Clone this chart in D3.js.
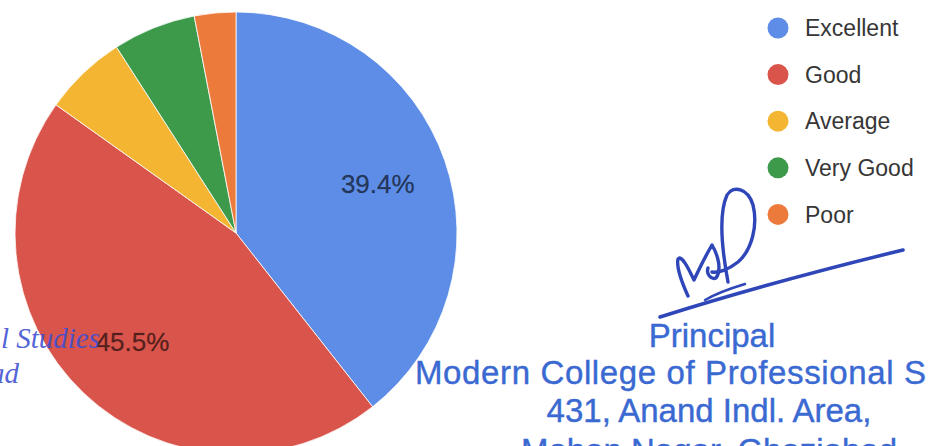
<!DOCTYPE html>
<html>
<head>
<meta charset="utf-8">
<script src="https://cdn.jsdelivr.net/npm/d3@7/dist/d3.min.js"></script>
<style>
  html, body { margin: 0; padding: 0; background: #fff; }
  svg { display: block; }
</style>
</head>
<body>
<svg id="chart" width="928" height="446"></svg>
<script>
// ---- data ----
const categories = ["Excellent", "Good", "Average", "Very Good", "Poor"];
const counts = [13, 15, 2, 2, 1];
const colors = ["#5d8de6", "#d9544b", "#f4b632", "#3e9a4b", "#ec7a3b"];
const stampLines = ["Principal", "Modern College of Professional S", "431, Anand Indl. Area,", "Mohan Nagar, Ghaziabad"];
const sideStampLines = ["l Studies", "ad"];

const W = 928, H = 446;
const cx = 236, cy = 233, R = 221, labelR = 150;

const svg = d3.select("#chart");
const total = d3.sum(counts);
const fmt = d3.format(".1%");

const color = d3.scaleOrdinal().domain(categories).range(colors);
const pie = d3.pie().sort(null).value(d => d.value);
const data = categories.map((c, i) => ({ name: c, value: counts[i] }));
const arcs = pie(data);
const arc = d3.arc().innerRadius(0).outerRadius(R);
const labelArc = d3.arc().innerRadius(labelR).outerRadius(labelR);

const g = svg.append("g").attr("transform", `translate(${cx},${cy})`);
g.selectAll("path.slice")
  .data(arcs)
  .join("path")
  .attr("class", "slice")
  .attr("d", arc)
  .attr("fill", d => color(d.data.name))
  .attr("stroke", "#ffffff")
  .attr("stroke-width", 0.8);

// side stamp text (partially visible, italic serif)
const side = svg.append("g")
  .attr("font-family", "'Liberation Serif', 'DejaVu Serif', serif")
  .attr("font-style", "italic")
  .attr("font-size", 29)
  .attr("fill", "#3d4fd2")
  .attr("fill-opacity", 0.9)
  .attr("text-anchor", "end");
side.selectAll("text")
  .data(sideStampLines)
  .join("text")
  .attr("x", (d, i) => i === 0 ? 100 : 19)
  .attr("y", (d, i) => 348 + i * 35)
  .text(d => d);

// slice labels
g.selectAll("text.pct")
  .data(arcs.filter(d => d.data.value / total > 0.1))
  .join("text")
  .attr("class", "pct")
  .attr("transform", d => `translate(${labelArc.centroid(d)})`)
  .attr("text-anchor", "middle")
  .attr("dy", "0.36em")
  .attr("font-family", "Arial, 'Liberation Sans', sans-serif")
  .attr("font-size", 26)
  .attr("fill", "#000")
  .attr("fill-opacity", 0.62)
  .attr("stroke", "#000")
  .attr("stroke-opacity", 0.3)
  .attr("stroke-width", 0.5)
  .text(d => fmt(d.data.value / total));

// legend
const legend = svg.append("g")
  .attr("font-family", "Arial, 'Liberation Sans', sans-serif")
  .attr("font-size", 23);
const li = legend.selectAll("g")
  .data(categories)
  .join("g")
  .attr("transform", (d, i) => `translate(778, ${28 + i * 46.6})`);
li.append("circle").attr("r", 10.5).attr("fill", d => color(d));
li.append("text")
  .attr("x", 27)
  .attr("dy", "0.36em")
  .attr("fill", "#363636")
  .text(d => d);

// signature
const sig = svg.append("g")
  .attr("fill", "none")
  .attr("stroke", "#2f46b8")
  .attr("stroke-linecap", "round")
  .attr("stroke-linejoin", "round");
sig.append("path")
  .attr("stroke-width", 3.5)
  .attr("d", "M660,317 C720,298 800,275 903,250");
sig.append("path")
  .attr("stroke-width", 3.4)
  .attr("d", "M728,282 C722,250 718,215 727,195 C733,185 748,188 753,205 C758,225 752,250 738,262 C728,270 718,273 712,272");
sig.append("path")
  .attr("stroke-width", 3.4)
  .attr("d", "M688,296 C683,285 676,268 678,259 C682,254 690,272 694,280 C698,272 702,262 712,245 C718,255 722,270 716,278 C711,280 706,274 708,268");
sig.append("path")
  .attr("stroke-width", 2.5)
  .attr("d", "M705,300 C712,296 725,290 745,284");

// stamp text
const stamp = svg.append("g")
  .attr("font-family", "Arial, 'Liberation Sans', sans-serif")
  .attr("font-size", 33)
  .attr("fill", "#3a69d2")
  .attr("stroke", "#3a69d2")
  .attr("stroke-width", 0.4);
stamp.append("text").attr("x", 712).attr("y", 347).attr("text-anchor", "middle").text(stampLines[0]);
stamp.append("text").attr("x", 415).attr("y", 384)
  .attr("textLength", 511).attr("lengthAdjust", "spacing").text(stampLines[1]);
stamp.append("text").attr("x", 709).attr("y", 422).attr("text-anchor", "middle").text(stampLines[2]);
stamp.append("text").attr("x", 709).attr("y", 462).attr("text-anchor", "middle").text(stampLines[3]);
</script>
</body>
</html>
